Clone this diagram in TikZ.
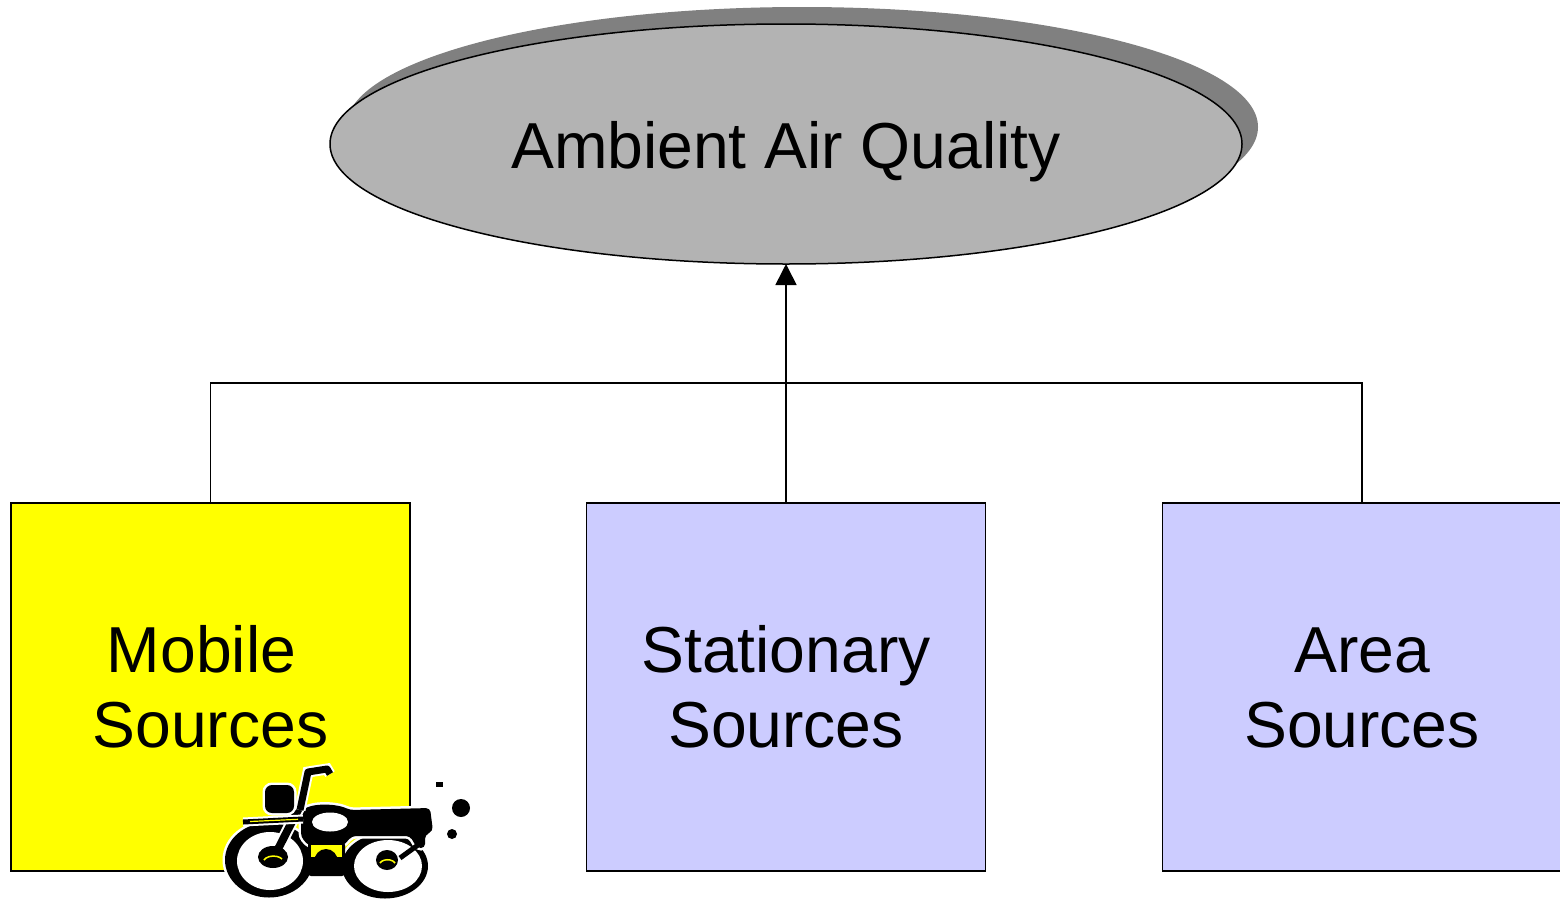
\documentclass[tikz,border=0pt]{standalone}
\usepackage{fontspec}
\setmainfont{Liberation Sans}
\usetikzlibrary{shapes.geometric,arrows.meta,shadows}
\definecolor{ellfill}{HTML}{B3B3B3}
\definecolor{ellshadow}{HTML}{808080}
\definecolor{srcblue}{HTML}{CCCCFF}
\definecolor{srcyellow}{HTML}{FFFF00}
\begin{document}
\begin{tikzpicture}[x=1pt,y=-1pt,
  big/.style={font=\fontsize{65pt}{74.6pt}\selectfont, inner sep=0pt, anchor=base, xscale=0.988},
  srcbox/.style={draw=black, line width=1.6pt, minimum width=399pt, minimum height=368pt, inner sep=0pt, outer sep=0pt},
  link/.style={line width=1.6pt},
  bikefill/.style={fill=black, preaction={draw=white, line width=5pt}},
  bikeline/.style={draw=black, line width=#1, preaction={draw=white, line width=#1+4pt}},
]
\useasboundingbox (0,0) rectangle (1560,900);
% top ellipse
\node[ellipse, draw=black, line width=1.5pt, fill=ellfill, minimum width=912pt, minimum height=240pt,
      inner sep=0pt, outer sep=0pt,
      drop shadow={shadow xshift=16pt, shadow yshift=17pt, opacity=1, fill=ellshadow}] (amb) at (786,144) {};
\node[big] (ambt) at (786,168.3) {Ambient Air Quality};
% source boxes
\node[srcbox, fill=srcyellow] (mob) at (210.5,687) {};
\node[srcbox, fill=srcblue] (stat) at (786,687) {};
\node[srcbox, fill=srcblue] (area) at (1362,687) {};
\node[big] (mob1) at (201.5,672.7) {Mobile};
\node[big] (mob2) at (210.5,747.3) {Sources};
\node[big] (stat1) at (786,672.7) {Stationary};
\node[big] (stat2) at (786,747.3) {Sources};
\node[big] (area1) at (1362,672.7) {Area};
\node[big] (area2) at (1362,747.3) {Sources};
% connectors
\draw[link] (mob.north) -- ++(0,-120) coordinate (jl) -| (area.north);
\draw[link, -{Triangle[width=21pt,length=21pt]}] (stat.north) -- (amb.south);
% motorcycle
\fill[bikefill] (385,866) ellipse [x radius=43, y radius=32.5];
\fill[white] (388,866) ellipse [x radius=34, y radius=26];
\fill[bikefill] (269,860) ellipse [x radius=44, y radius=37.5];
\fill[white] (270,861) ellipse [x radius=33, y radius=29];
% body and seat
\fill[bikefill, rounded corners=4pt] (301,814) .. controls (308,803) and (335,803) .. (350,810)
  -- (430,808) -- (433,831) -- (425,835) -- (425,848) -- (417,848) -- (410,836)
  -- (352,836) -- (343,846) -- (309,846) -- (301,837) -- cycle;
\fill[white] (330,822) ellipse [x radius=18, y radius=9.5];
% engine
\fill[black, rounded corners=3pt] (308,842) rectangle (345,876);
\fill[srcyellow] (311,845) rectangle (342,857);
\fill[black] (326,862) ellipse [x radius=12, y radius=13];
% rear fender / shock
\draw[line width=5pt] (418,845) -- (400,858);
% fork and handlebar
\draw[bikeline=8pt, line cap=round] (275,855) -- (300,806);
\draw[bikeline=7pt, line join=round] (300,810) -- (308,772) -- (327,769) -- (330,774);
% headlight
\fill[bikefill, rounded corners=7pt] (265,785) rectangle (294,813);
% front fender
\draw[bikeline=5pt] (243,822) -- (303,819);
\draw[srcyellow, line width=1.2pt] (250,821.5) -- (298,819.3);
% hubs
\fill[black] (273,857) ellipse [x radius=15, y radius=11];
\draw[srcyellow, line width=1.5pt] (264,860) arc [start angle=200, end angle=330, x radius=10, y radius=6];
\fill[black] (387,860) ellipse [x radius=11, y radius=10];
\draw[srcyellow, line width=1.5pt] (380,863) arc [start angle=200, end angle=340, x radius=8, y radius=5];
% exhaust dots
\fill[black] (436,782) rectangle (443,787);
\fill[black] (461,808) circle [radius=9];
\fill[black] (452,834) circle [radius=5];
\end{tikzpicture}
\end{document}
